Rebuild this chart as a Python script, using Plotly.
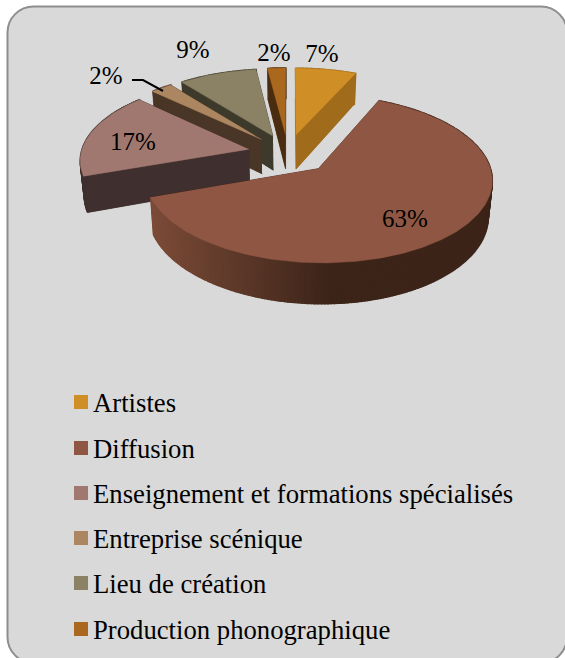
import numpy as np
import plotly.graph_objects as go

# Data
categories = ["Artistes", "Diffusion", "Enseignement et formations spécialisés",
              "Entreprise scénique", "Lieu de création", "Production phonographique"]
shares = [6.7, 62.9, 17.4, 2.4, 8.6, 2.0]
top_colors = ["#d08e27", "#8f5743", "#a17870", "#ab8660", "#8b8165", "#aa681f"]
wall_colors = ["#a06c1c", "#3c2419", "#3f2f2f", "#4a3626", "#3d3a2c", "#4a2c10"]
explodes = [40, 44, 40, 40, 40, 40]

# Page and pie geometry, in pixels of the 565x658 picture
W, H = 565, 658
cx, cy = 288, 153
radius = 168
squash = 0.47
persp = 0.12
depth = 35

# Percent label positions
label_x = [322, 405, 133, 106, 193, 274]
label_y = [56, 221, 144, 78, 52, 55]
legend_x = 81
legend_text_x = 93
legend_y = [402, 448, 493, 538, 583, 629]
legend_text_y = [405, 451, 496, 541, 586, 632]


def project(wx, wy, drop=0.0):
    p = 1 / (1 + persp * wy / radius)
    shrink = 1 - 0.02 * (drop > 0)
    return cx + wx * p * shrink, cy - wy * p * squash + drop * p


def slice_points(a0, a1, bis, explode, drop=0.0):
    # apex then the rim, clockwise from the top
    ox, oy = explode * np.sin(bis), explode * np.cos(bis)
    th = np.linspace(a0, a1, max(3, int(np.degrees(a1 - a0))))
    xs, ys = project(ox + radius * np.sin(th), oy + radius * np.cos(th), drop)
    ax, ay = project(np.array([ox]), np.array([oy]), drop)
    return np.concatenate([ax, xs]), np.concatenate([ay, ys])


def poly(fig, xs, ys, color, lw=0.5):
    fig.add_trace(go.Scatter(x=list(xs), y=list(ys), mode="lines", fill="toself",
                             fillcolor=color, line=dict(color=color, width=lw),
                             hoverinfo="skip", showlegend=False))


def mix(c0, c1, t):
    a = [int(c0[i:i + 2], 16) for i in (1, 3, 5)]
    b = [int(c1[i:i + 2], 16) for i in (1, 3, 5)]
    return "rgb(%d,%d,%d)" % tuple(a[i] + (b[i] - a[i]) * t for i in range(3))


fig = go.Figure()

edges = np.radians(np.cumsum([0] + shares) * 3.6)

# back slices first, Diffusion last since it sits in front
for i in [0, 5, 4, 3, 2, 1]:
    a0, a1 = edges[i], edges[i + 1]
    bis = (a0 + a1) / 2
    tx, ty = slice_points(a0, a1, bis, explodes[i])
    bx, by = slice_points(a0, a1, bis, explodes[i], depth)
    poly(fig, bx, by, wall_colors[i])
    # radial walls
    for k in (1, -1):
        poly(fig, [tx[0], tx[k], bx[k], bx[0]], [ty[0], ty[k], by[k], by[0]], wall_colors[i])
    # rim wall, shaded left to right on the big slice
    n = len(tx)
    for j in range(n - 2, 0, -1):
        col = wall_colors[i]
        if i == 1:
            t = min(1, (tx[j] - tx.min()) / 185)
            col = mix("#7d4c39", "#3c2419", t)
        poly(fig, [tx[j], tx[j + 1], bx[j + 1], bx[j]], [ty[j], ty[j + 1], by[j + 1], by[j]], col, 1.5)
    poly(fig, tx, ty, top_colors[i])

# leader line of the small 2% label
fig.add_trace(go.Scatter(x=[132, 143, 163], y=[80, 80, 91], mode="lines",
                         line=dict(color="black", width=2), hoverinfo="skip", showlegend=False))

# percent labels
fig.add_trace(go.Scatter(x=label_x, y=label_y, mode="text", text=[f"{round(v)}%" for v in shares],
                         textposition="middle center",
                         textfont=dict(family="Liberation Serif", size=25, color="black"),
                         hoverinfo="skip", showlegend=False))

# legend
fig.add_trace(go.Scatter(x=[legend_x] * 6, y=legend_y, mode="markers",
                         marker=dict(symbol="square", size=14, color=top_colors),
                         hoverinfo="skip", showlegend=False))
fig.add_trace(go.Scatter(x=[legend_text_x] * 6, y=legend_text_y, mode="text",
                         text=categories, textposition="middle right",
                         textfont=dict(family="Liberation Serif", size=26.7, color="black"),
                         hoverinfo="skip", showlegend=False))

# rounded card behind everything, running off the right and bottom edges
x0, y0, x1, y1, r = 7.5, 6.5, 567, 663, 26
q = r * 0.45
card = (f"M {x0 + r} {y0} L {x1 - r} {y0} C {x1 - q} {y0} {x1} {y0 + q} {x1} {y0 + r} "
        f"L {x1} {y1 - r} C {x1} {y1 - q} {x1 - q} {y1} {x1 - r} {y1} "
        f"L {x0 + r} {y1} C {x0 + q} {y1} {x0} {y1 - q} {x0} {y1 - r} "
        f"L {x0} {y0 + r} C {x0} {y0 + q} {x0 + q} {y0} {x0 + r} {y0} Z")

fig.update_layout(
    width=W, height=H,
    margin=dict(l=0, r=0, t=0, b=0),
    paper_bgcolor="white", plot_bgcolor="white",
    showlegend=False,
    xaxis=dict(range=[0, W], visible=False, fixedrange=True),
    yaxis=dict(range=[H, 0], visible=False, fixedrange=True),
    shapes=[dict(type="path", path=card, xref="x", yref="y", layer="below",
                 fillcolor="#d9d9d9", line=dict(color="#8e8e8e", width=2))],
)

# page has a default body margin, drop it so the picture lines up
fig.write_html("out.html", config={"displayModeBar": False},
               post_script="document.body.style.margin='0';document.body.style.overflow='hidden';")
